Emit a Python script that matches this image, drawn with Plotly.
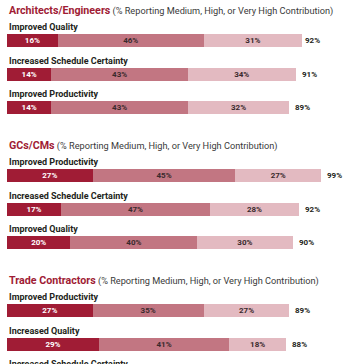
import plotly.graph_objects as go

# ---------------- data ----------------
group_titles = ["Architects/Engineers", "GCs/CMs", "Trade Contractors"]
subtitle = "(% Reporting Medium, High, or Very High Contribution)"

ae_labels = ["Improved Quality", "Increased Schedule Certainty", "Improved Productivity"]
ae_very_high = [16, 14, 14]
ae_high = [46, 43, 43]
ae_medium = [31, 34, 32]
ae_total = [92, 91, 89]

gc_labels = ["Improved Productivity", "Increased Schedule Certainty", "Improved Quality"]
gc_very_high = [27, 17, 20]
gc_high = [45, 47, 40]
gc_medium = [27, 28, 30]
gc_total = [99, 92, 90]

tc_labels = ["Improved Productivity", "Increased Quality", "Increased Schedule Certainty"]
tc_very_high = [27, 29]
tc_high = [35, 41]
tc_medium = [27, 18]
tc_total = [89, 88]

# ---------------- layout constants ----------------
W, H = 356, 364
FIRST_BAR = 40.5
SECTION_STEP = 135
ROW_STEP = 33.5
BAR_H = 13
LABEL_UP = 13.5
TITLE_UP = 30

DARK = "#A01C35"
MID = "#C27682"
LIGHT = "#E3BAC1"
TEXT = "#231F20"
FONT = "Roboto"

groups = [
    (ae_labels, ae_very_high, ae_high, ae_medium, ae_total),
    (gc_labels, gc_very_high, gc_high, gc_medium, gc_total),
    (tc_labels, tc_very_high, tc_high, tc_medium, tc_total),
]

ys, vh, hi, me, tot = [], [], [], [], []
annotations = []
for gi, (labels, a, b, c, t) in enumerate(groups):
    base = FIRST_BAR + gi * SECTION_STEP
    annotations.append(dict(
        x=0, xref="paper", y=base - TITLE_UP, yref="y",
        xanchor="left", yanchor="middle", showarrow=False,
        text=(f"<b>{group_titles[gi]}</b>"
              f"<span style='color:#3a3a3a;font-size:9.2px'> {subtitle}</span>"),
        font=dict(family=FONT, size=10.7, color=DARK),
    ))
    for ri, lab in enumerate(labels):
        y = base + ri * ROW_STEP
        annotations.append(dict(
            x=0, xref="paper", y=y - LABEL_UP, yref="y",
            xanchor="left", yanchor="middle", showarrow=False,
            text=f"<b>{lab}</b>", font=dict(family=FONT, size=9, color=TEXT),
        ))
        if ri < len(a):
            ys.append(y)
            vh.append(a[ri]); hi.append(b[ri]); me.append(c[ri]); tot.append(t[ri])

fig = go.Figure()
for vals, col, tcol, name in [(vh, DARK, "white", "Very High"),
                              (hi, MID, "#3a2a2d", "High"),
                              (me, LIGHT, "#3a2a2d", "Medium")]:
    fig.add_trace(go.Bar(
        x=vals, y=ys, orientation="h", width=BAR_H, name=name,
        marker=dict(color=col, line=dict(width=0)),
        text=[f"{v}%" for v in vals], textposition="inside",
        insidetextanchor="middle", textangle=0, constraintext="none",
        textfont=dict(family=FONT, size=8, color=tcol, weight="bold"),
        hoverinfo="skip",
    ))

for y, t in zip(ys, tot):
    annotations.append(dict(
        x=t, xref="x", y=y, yref="y", xanchor="left", yanchor="middle",
        xshift=4, showarrow=False, text=f"<b>{t}%</b>",
        font=dict(family=FONT, size=8, color=TEXT),
    ))

fig.update_layout(
    width=W, height=H, barmode="stack", showlegend=False,
    margin=dict(l=7, r=0, t=0, b=0),
    paper_bgcolor="white", plot_bgcolor="white",
    xaxis=dict(range=[0, 110], visible=False, fixedrange=True),
    yaxis=dict(range=[H, 0], visible=False, fixedrange=True),
    annotations=annotations,
)

fig.write_html(
    "out.html",
    config={"displayModeBar": False},
    post_script="document.body.style.margin='0';document.body.style.overflow='hidden';",
)
